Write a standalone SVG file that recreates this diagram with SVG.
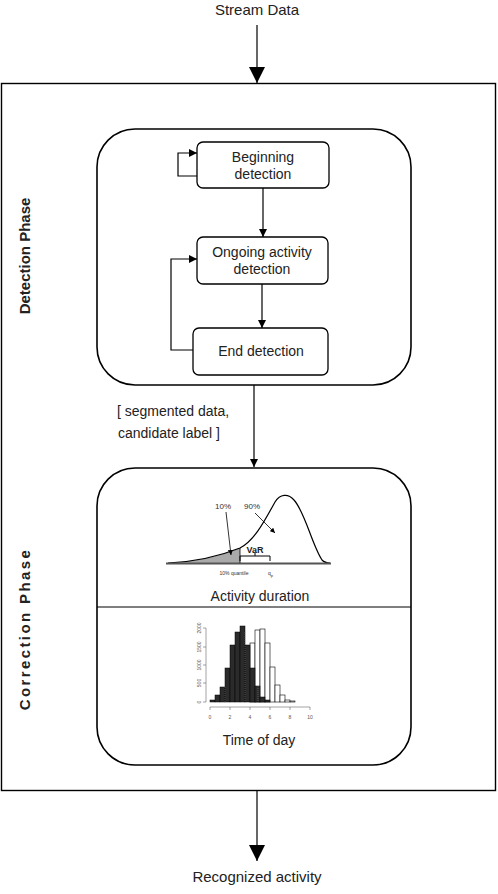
<svg xmlns="http://www.w3.org/2000/svg" width="498" height="894" viewBox="0 0 498 894">
<style>
text{font-family:"Liberation Sans",Arial,sans-serif;fill:#222}
.lbl{font-size:15px;text-anchor:middle}
.nd{font-size:14px;text-anchor:middle}
.ph{font-size:15px;font-weight:bold;text-anchor:middle}
.box{fill:#fff;stroke:#000;stroke-width:1.3}
.big{fill:none;stroke:#000;stroke-width:1.6}
.ln{fill:none;stroke:#000;stroke-width:1.2}
.tiny{font-size:5px;fill:#555;text-anchor:middle}
</style>
<defs>
<marker id="ah" viewBox="0 0 10 10" refX="10" refY="5" markerWidth="8" markerHeight="8" markerUnits="userSpaceOnUse" orient="auto">
<path d="M0,0 L10,5 L0,10 Z" fill="#000"/>
</marker>
<marker id="ahs" viewBox="0 0 10 10" refX="10" refY="5" markerWidth="5" markerHeight="5" markerUnits="userSpaceOnUse" orient="auto">
<path d="M0,0 L10,5 L0,10 Z" fill="#000"/>
</marker>
<marker id="ahb" viewBox="0 0 10 10" refX="10" refY="5" markerWidth="16" markerHeight="16" markerUnits="userSpaceOnUse" orient="auto">
<path d="M0,0 L10,5 L0,10 Z" fill="#000"/>
</marker>
</defs>

<g id="outer">
<rect x="1.5" y="83.5" width="494" height="707" fill="none" stroke="#000" stroke-width="1.4"/>
</g>

<g id="detection-phase">
<rect x="97" y="129" width="314" height="256" rx="38" ry="38" class="big"/>
<text class="ph" transform="translate(30,256) rotate(-90)">Detection Phase</text>
</g>

<g id="correction-phase">
<rect x="97" y="468" width="314" height="297" rx="38" ry="38" class="big"/>
<line x1="97" y1="607" x2="411" y2="607" stroke="#000" stroke-width="1.2"/>
<text class="ph" style="letter-spacing:2.4px" transform="translate(30,629) rotate(-90)">Correction Phase</text>
</g>

<g id="stream-data"><text class="lbl" x="257" y="15">Stream  Data</text></g>
<g id="recognized-activity"><text class="lbl" x="257" y="882">Recognized activity</text></g>

<g id="beginning-detection">
<rect x="197" y="142" width="132" height="46" rx="6" class="box"/>
<text class="nd" x="263" y="162">Beginning</text>
<text class="nd" x="263" y="179">detection</text>
</g>
<g id="ongoing-activity-detection">
<rect x="197" y="237" width="131" height="47" rx="6" class="box"/>
<text class="nd" x="262" y="257">Ongoing activity</text>
<text class="nd" x="262" y="274">detection</text>
</g>
<g id="end-detection">
<rect x="193" y="328" width="135" height="47" rx="6" class="box"/>
<text class="nd" x="261" y="356">End detection</text>
</g>

<g id="connectors">
<line x1="257" y1="25" x2="257" y2="83" class="ln" marker-end="url(#ahb)"/>
<line x1="263" y1="188" x2="263" y2="237" class="ln" marker-end="url(#ah)"/>
<line x1="262" y1="284" x2="262" y2="328" class="ln" marker-end="url(#ah)"/>
<polyline points="197,176 178,176 178,153 197,153" class="ln" marker-end="url(#ah)"/>
<polyline points="193,350 171,350 171,259 197,259" class="ln" marker-end="url(#ah)"/>
<line x1="254" y1="385" x2="254" y2="467" class="ln" marker-end="url(#ah)"/>
<line x1="257" y1="791" x2="257" y2="861" class="ln" marker-end="url(#ahb)"/>
<text x="117" y="416" style="font-size:14px">[ segmented data,</text>
<text x="118" y="438" style="font-size:14px">candidate label ]</text>
</g>

<g id="activity-duration-chart">
<path d="M168,563 C190,562 215,558 240,548 L240,563 Z" fill="#aaa"/>
<path d="M168,563 C190,562 215,558 240,548 C255,540 265,520 275,502 C280,494 288,493 294,500 C305,512 312,545 322,560 C325,563 328,563 330,563" fill="none" stroke="#000" stroke-width="1.2"/>
<line x1="166" y1="563.5" x2="331" y2="563.5" stroke="#555" stroke-width="2"/>
<line x1="240" y1="548" x2="240" y2="563" stroke="#000" stroke-width="0.8"/>
<path d="M240,561 L240,556 L270,556 L270,561 M255,556 L255,552" fill="none" stroke="#000" stroke-width="1"/>
<text x="255" y="553" style="font-size:9px;font-weight:bold;text-anchor:middle">VaR</text>
<text x="223" y="509" style="font-size:8px;text-anchor:middle;fill:#333">10%</text>
<text x="252" y="509" style="font-size:8px;text-anchor:middle;fill:#333">90%</text>
<line x1="226" y1="512" x2="231" y2="555" stroke="#000" stroke-width="0.8" marker-end="url(#ahs)"/>
<line x1="255" y1="513" x2="275" y2="533" stroke="#000" stroke-width="0.8" marker-end="url(#ahs)"/>
<text x="234" y="575" style="font-size:5px;text-anchor:middle;fill:#333">10% quantile</text>
<text x="268" y="575" style="font-size:5px;fill:#333">q<tspan dy="1.5" style="font-size:4px">p</tspan></text>
<text class="nd" x="260" y="601">Activity duration</text>
</g>

<g id="time-of-day-chart">
<g fill="#fff" stroke="#000" stroke-width="0.6">
<rect x="250" y="643" width="5" height="59"/>
<rect x="255" y="630" width="5" height="72"/>
<rect x="260" y="629" width="5" height="73"/>
<rect x="265" y="643" width="5" height="59"/>
<rect x="270" y="667" width="5" height="35"/>
<rect x="275" y="685" width="5" height="17"/>
<rect x="280" y="695" width="5" height="7"/>
<rect x="285" y="700" width="5" height="2"/>
<rect x="290" y="701" width="5" height="1"/>
</g>
<g fill="#2b2b2b" stroke="#000" stroke-width="0.5">
<rect x="210" y="700" width="5" height="2"/>
<rect x="215" y="695" width="5" height="7"/>
<rect x="220" y="687" width="5" height="15"/>
<rect x="225" y="668" width="5" height="34"/>
<rect x="230" y="645" width="5" height="57"/>
<rect x="235" y="632" width="5" height="70"/>
<rect x="240" y="626" width="5" height="76"/>
<rect x="245" y="645" width="5" height="57"/>
<rect x="250" y="668" width="5" height="34"/>
<rect x="255" y="686" width="5" height="16"/>
<rect x="260" y="697" width="5" height="5"/>
<rect x="265" y="700" width="5" height="2"/>
</g>
<g stroke="#888" stroke-width="0.5" stroke-dasharray="1,1">
<line x1="225" y1="687" x2="225" y2="702"/>
<line x1="245" y1="632" x2="245" y2="702"/>
<line x1="258" y1="686" x2="258" y2="702"/>
</g>
<path d="M206,628 L206,702 M203,628 L206,628 M203,647 L206,647 M203,665 L206,665 M203,683 L206,683 M203,702 L206,702" stroke="#666" stroke-width="0.6" fill="none"/>
<path d="M210,707 L310,707 M210,707 L210,710 M230,707 L230,710 M250,707 L250,710 M270,707 L270,710 M290,707 L290,710 M310,707 L310,710" stroke="#666" stroke-width="0.6" fill="none"/>
<text class="tiny" transform="translate(201,628) rotate(-90)">2000</text>
<text class="tiny" transform="translate(201,647) rotate(-90)">1500</text>
<text class="tiny" transform="translate(201,665) rotate(-90)">1000</text>
<text class="tiny" transform="translate(201,683) rotate(-90)">500</text>
<text class="tiny" transform="translate(201,702) rotate(-90)">0</text>
<text class="tiny" x="210" y="719">0</text>
<text class="tiny" x="230" y="719">2</text>
<text class="tiny" x="250" y="719">4</text>
<text class="tiny" x="270" y="719">6</text>
<text class="tiny" x="290" y="719">8</text>
<text class="tiny" x="310" y="719">10</text>
<text class="nd" x="259" y="745">Time of day</text>
</g>
</svg>
